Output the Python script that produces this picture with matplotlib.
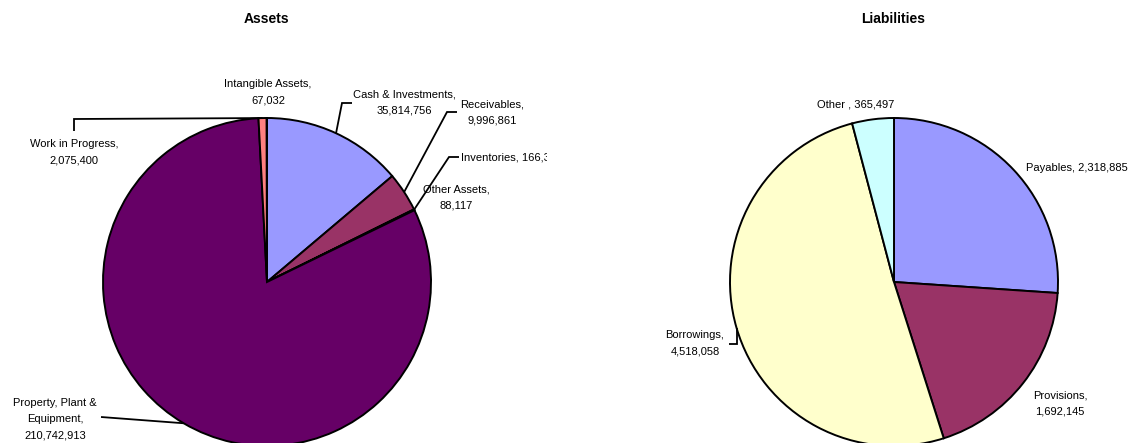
import matplotlib
matplotlib.use('Agg')
import numpy as np
import matplotlib.pyplot as plt

# data
asset_names = ['Cash & Investments', 'Receivables', 'Inventories', 'Other Assets',
               'Property, Plant &\nEquipment', 'Work in Progress', 'Intangible Assets']
asset_values = [35814756, 9996861, 166300, 88117, 210742913, 2075400, 67032]
asset_seps = ['\n', '\n', ' ', '\n', '\n', '\n', '\n']

liab_names = ['Payables', 'Provisions', 'Borrowings', 'Other ']
liab_values = [2318885, 1692145, 4518058, 365497]
liab_seps = [' ', '\n', '\n', ' ']

pie_colors = ['#9999FF', '#993366', '#FFFFCC', '#CCFFFF', '#660066', '#FF8080', '#0066CC']

W, H = 1135, 443
plt.rcParams['font.family'] = ['Liberation Sans', 'DejaVu Sans']

fig = plt.figure(figsize=(W / 100, H / 100), dpi=100)
fig.patch.set_facecolor('white')


def Y(py):
    # pixel row -> data y
    return H - py


def draw_pie(ax, values, cx, cy, r):
    wedges, _ = ax.pie(values, colors=pie_colors[:len(values)], startangle=90, counterclock=False,
                       center=(cx, Y(cy)), radius=r, frame=False,
                       wedgeprops=dict(edgecolor='black', linewidth=1.4))
    edges = []
    for w in wedges:
        a = np.deg2rad((w.theta1 + w.theta2) / 2)
        edges.append((cx + r * np.cos(a), Y(cy) + r * np.sin(a)))
    return edges


def label_text(name, value, sep):
    return f"{name},{sep}{value:,}"


def leader(ax, start, pts):
    xs = [start[0]] + [p[0] for p in pts]
    ys = [start[1]] + [Y(p[1]) for p in pts]
    ax.plot(xs, ys, color='black', lw=1.3, solid_capstyle='butt', solid_joinstyle='miter')


split = 547
ax1 = fig.add_axes([0, 0, split / W, 1])
ax2 = fig.add_axes([split / W, 0, (W - split) / W, 1])

# ---- Assets ----
edges = draw_pie(ax1, asset_values, 267, 282, 164)
ax1.set_xlim(0, split)
ax1.set_ylim(0, H)
ax1.set_aspect('auto')
ax1.axis('off')
ax1.text(266, Y(19), 'Assets', ha='center', va='center', fontsize=10, fontweight='bold')

# label positions (pixel), alignment
asset_pos = [(404, 102, 'center'), (492, 112, 'center'), (461, 157, 'left'), (456, 197, 'center'),
             (55, 419, 'center'), (74, 152, 'center'), (268, 92, 'center')]
for i, (name, val, sep) in enumerate(zip(asset_names, asset_values, asset_seps)):
    x, y, ha = asset_pos[i]
    ax1.text(x, Y(y), label_text(name, val, sep), ha=ha, va='center', fontsize=8,
             multialignment='center', linespacing=1.75, clip_on=True)

leader(ax1, edges[0], [(342, 103), (352, 103)])
leader(ax1, edges[1], [(447, 112), (457, 112)])
leader(ax1, edges[2], [(449, 157), (459, 157)])
leader(ax1, edges[4], [(101, 417)])
leader(ax1, edges[5], [(74, 119), (74, 131)])

# ---- Liabilities ----
edges = draw_pie(ax2, liab_values, 894, 282, 164)
ax2.set_xlim(split, W)
ax2.set_ylim(0, H)
ax2.set_aspect('auto')
ax2.axis('off')
ax2.text(893, Y(19), 'Liabilities', ha='center', va='center', fontsize=10, fontweight='bold')

liab_pos = [(1077, 168, 'center'), (1060, 404, 'center'), (695, 343, 'center'), (856, 104, 'center')]
for i, (name, val, sep) in enumerate(zip(liab_names, liab_values, liab_seps)):
    x, y, ha = liab_pos[i]
    ax2.text(x, Y(y), label_text(name, val, sep), ha=ha, va='center', fontsize=8,
             multialignment='center', linespacing=1.75, clip_on=True)

leader(ax2, edges[2], [(edges[2][0], 344), (729, 344)])

fig.savefig('out.png', dpi=100, facecolor='white')
